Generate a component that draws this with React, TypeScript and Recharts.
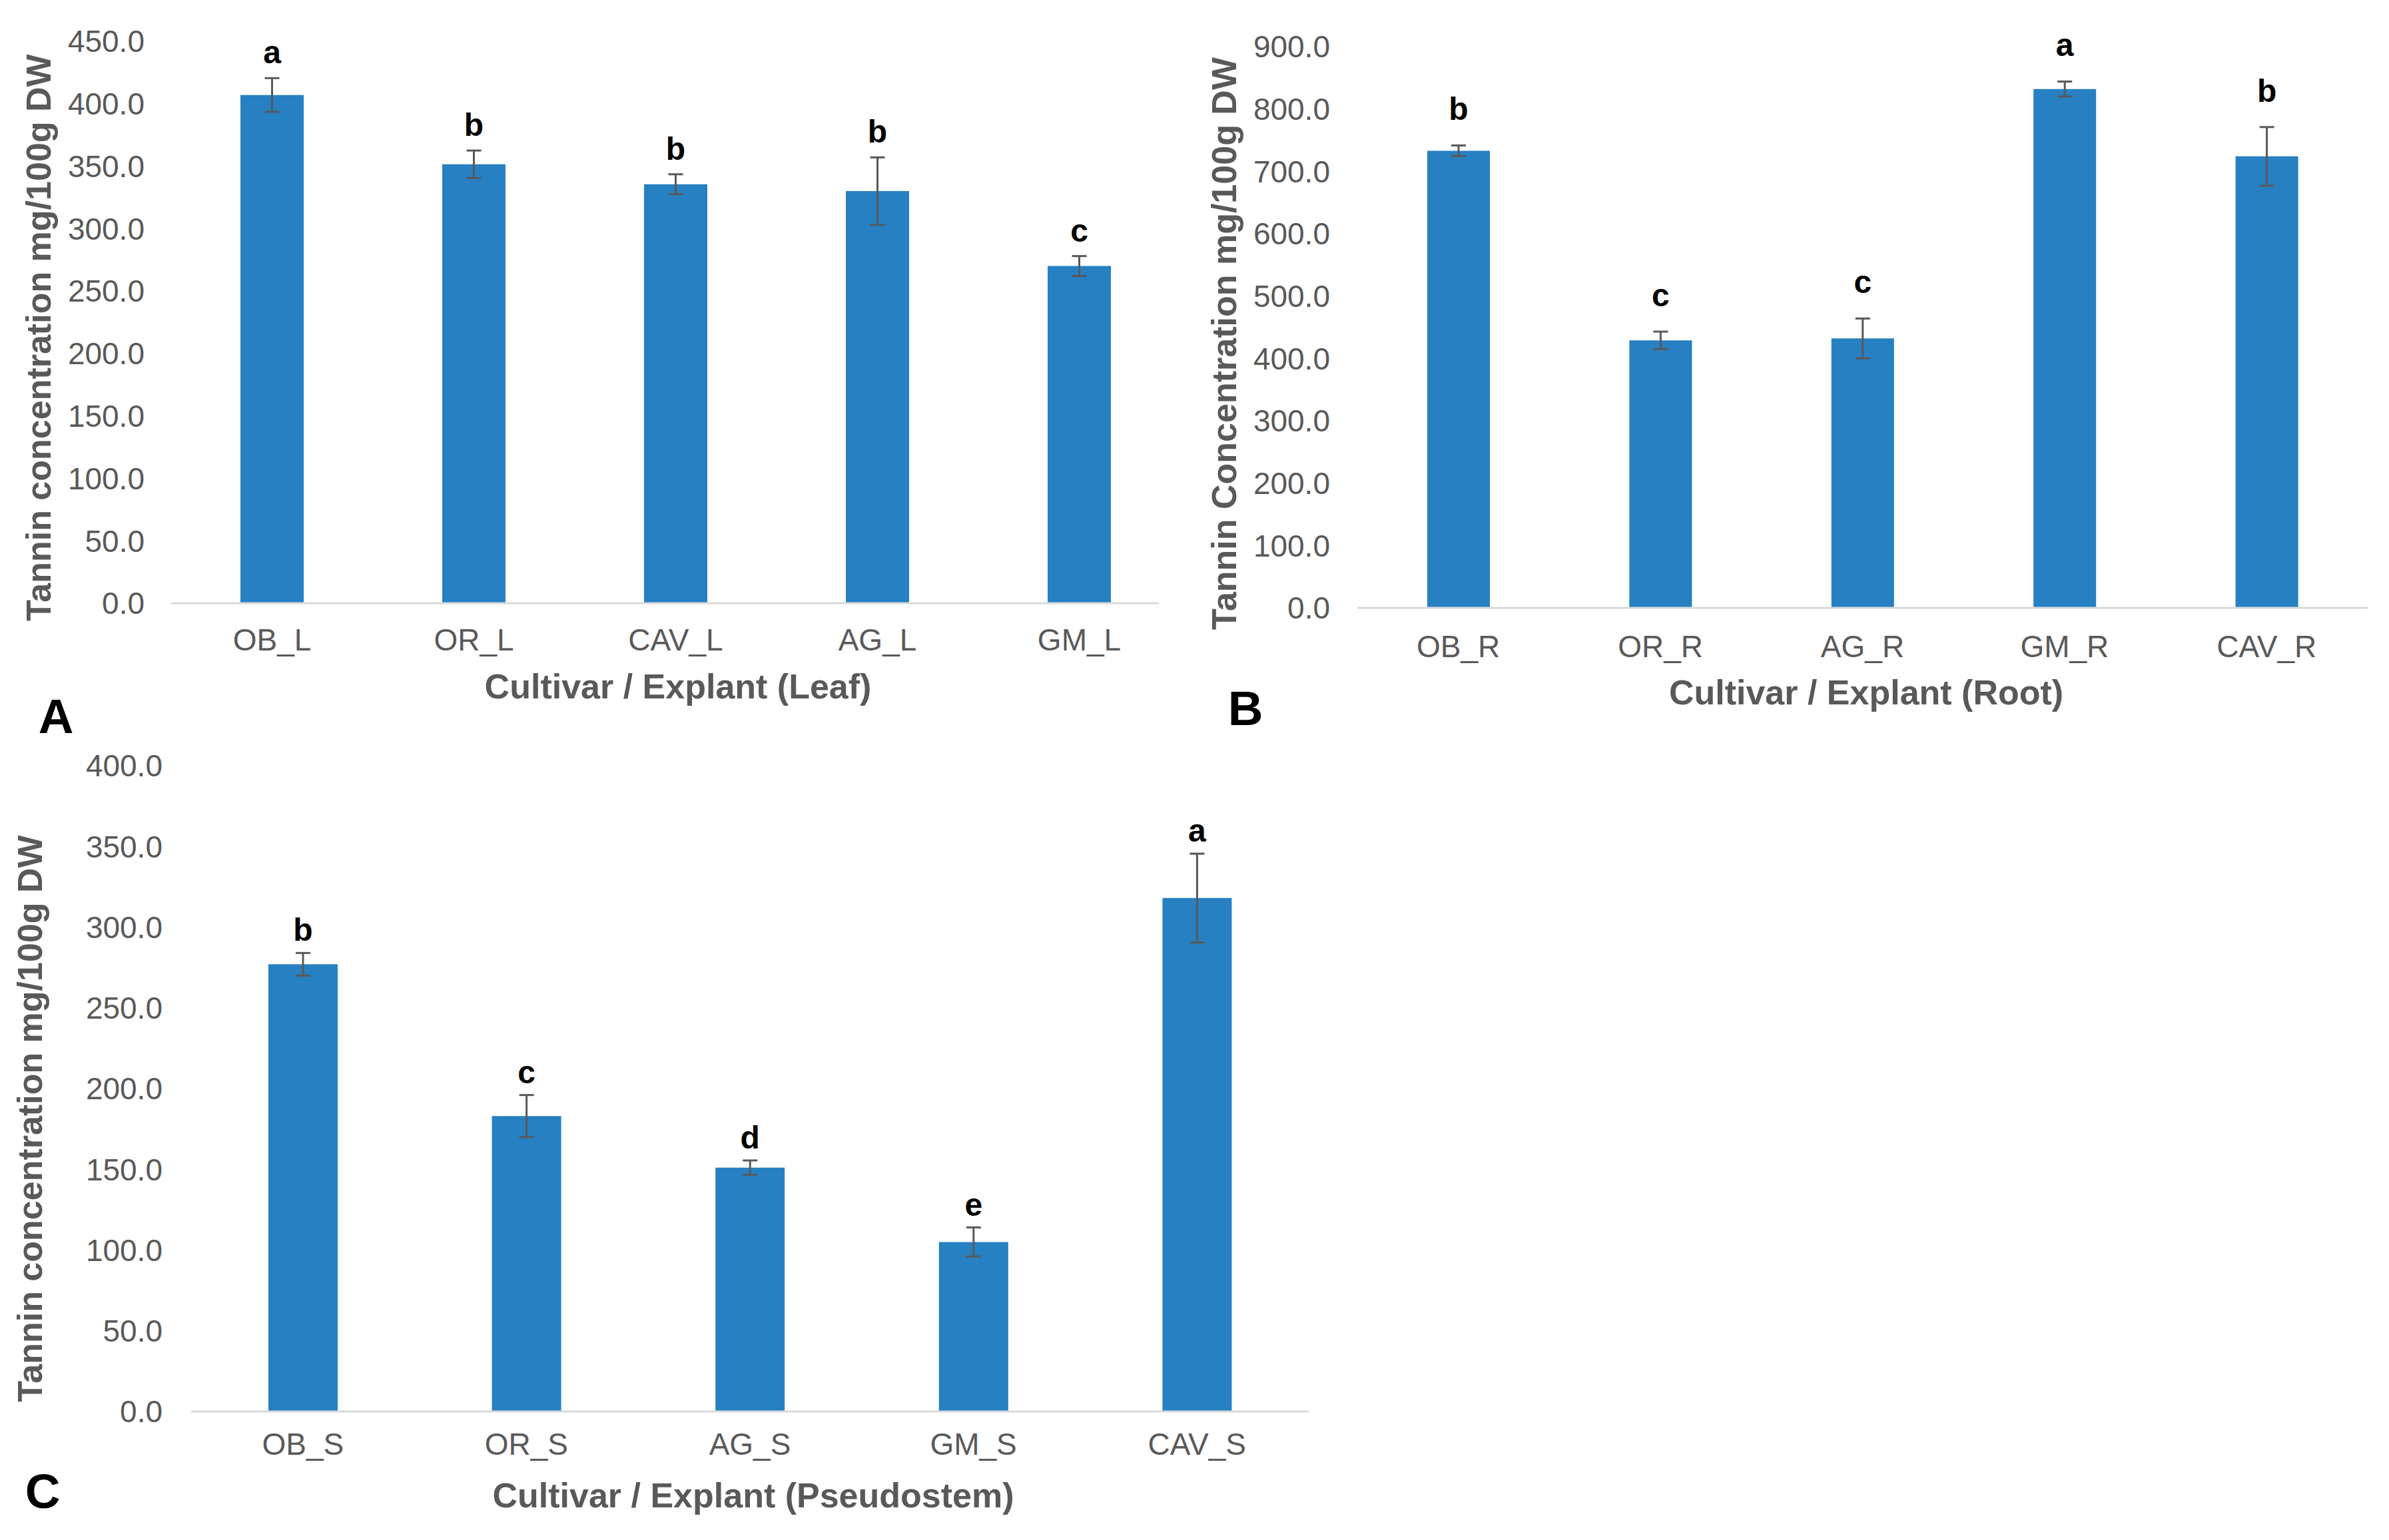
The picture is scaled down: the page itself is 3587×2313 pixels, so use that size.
import { BarChart, Bar, XAxis, YAxis, ErrorBar, LabelList } from 'recharts'

const FONT = '"Liberation Sans", Arial, sans-serif'
const BAR_COLOR = '#2680C2'
const AXIS_TEXT = '#595959'

// Panel A - leaf
const leafCategories = ['OB_L', 'OR_L', 'CAV_L', 'AG_L', 'GM_L']
const leafMeans = [407, 351.5, 335.5, 330, 270]
const leafErrors = [13.5, 11, 8, 27, 8]
const leafLetters = ['a', 'b', 'b', 'b', 'c']
const leafTicks = [0, 50, 100, 150, 200, 250, 300, 350, 400, 450]

// Panel B - root
const rootCategories = ['OB_R', 'OR_R', 'AG_R', 'GM_R', 'CAV_R']
const rootMeans = [733, 429, 432, 832, 724]
const rootErrors = [8.5, 14, 32, 12, 47]
const rootLetters = ['b', 'c', 'c', 'a', 'b']
const rootTicks = [0, 100, 200, 300, 400, 500, 600, 700, 800, 900]

// Panel C - pseudostem
const stemCategories = ['OB_S', 'OR_S', 'AG_S', 'GM_S', 'CAV_S']
const stemMeans = [277, 183, 151, 105, 318]
const stemErrors = [7, 13, 4.5, 9, 27.5]
const stemLetters = ['b', 'c', 'd', 'e', 'a']
const stemTicks = [0, 50, 100, 150, 200, 250, 300, 350, 400]

interface PanelProps {
  categories: string[]
  means: number[]
  errors: number[]
  letters: string[]
  ticks: number[]
  box: { left: number; top: number; width: number; height: number }
  plot: { left: number; right: number; top: number; bottom: number }
  padRight: number
  barSize: number
  xTickMargin: number
  yTickMargin: number
  letterGap: number
  yTitle: string
  yTitlePos: [number, number]
  xTitle: string
  xTitlePos: [number, number]
  tag: string
  tagPos: [number, number]
}

function Panel(p: PanelProps) {
  const data = p.categories.map((name, i) => ({
    name,
    mean: p.means[i],
    err: p.errors[i],
    letter: p.letters[i],
  }))
  const yMax = p.ticks[p.ticks.length - 1]
  const pxPerUnit = (p.plot.bottom - p.plot.top) / yMax

  const LetterLabel = (props: any) => {
    const { x, y, width, index, value } = props
    const errTop = y - p.errors[index] * pxPerUnit
    return (
      <text
        x={x + width / 2}
        y={errTop - p.letterGap}
        textAnchor="middle"
        fontSize={48}
        fontWeight="bold"
        fontFamily={FONT}
        fill="#000"
      >
        {value}
      </text>
    )
  }

  return (
    <>
      <div style={{ position: 'absolute', left: p.box.left, top: p.box.top }}>
        <BarChart
          width={p.box.width}
          height={p.box.height}
          data={data}
          margin={{
            top: p.plot.top - p.box.top,
            right: p.box.left + p.box.width - p.plot.right,
            bottom: 0,
            left: 0,
          }}
        >
          <XAxis
            dataKey="name"
            height={p.box.top + p.box.height - p.plot.bottom}
            padding={{ left: 0, right: p.padRight }}
            axisLine={{ stroke: '#D9D9D9', strokeWidth: 3 }}
            tickLine={false}
            tickSize={0}
            tickMargin={p.xTickMargin}
            tick={{ fontSize: 46, fill: AXIS_TEXT, fontFamily: FONT }}
            interval={0}
          />
          <YAxis
            width={p.plot.left - p.box.left}
            domain={[0, yMax]}
            ticks={p.ticks}
            interval={0}
            axisLine={false}
            tickLine={false}
            tickSize={0}
            tickMargin={p.yTickMargin}
            tickFormatter={(v: number) => v.toFixed(1)}
            tick={{ fontSize: 46, fill: AXIS_TEXT, fontFamily: FONT }}
          />
          <Bar dataKey="mean" fill={BAR_COLOR} barSize={p.barSize} isAnimationActive={false}>
            <ErrorBar dataKey="err" width={11} strokeWidth={3} stroke="#595959" direction="y" />
            <LabelList dataKey="letter" content={LetterLabel} />
          </Bar>
        </BarChart>
      </div>
      <div
        style={{
          position: 'absolute',
          left: p.yTitlePos[0],
          top: p.yTitlePos[1],
          transform: 'translate(-50%, -50%) rotate(-90deg)',
          whiteSpace: 'nowrap',
          fontFamily: FONT,
          fontWeight: 'bold',
          fontSize: 52,
          lineHeight: 1,
          color: AXIS_TEXT,
        }}
      >
        {p.yTitle}
      </div>
      <div
        style={{
          position: 'absolute',
          left: p.xTitlePos[0],
          top: p.xTitlePos[1],
          transform: 'translate(-50%, -50%)',
          whiteSpace: 'nowrap',
          fontFamily: FONT,
          fontWeight: 'bold',
          fontSize: 52,
          lineHeight: 1,
          color: AXIS_TEXT,
        }}
      >
        {p.xTitle}
      </div>
      <div
        style={{
          position: 'absolute',
          left: p.tagPos[0],
          top: p.tagPos[1],
          transform: 'translate(-50%, -50%)',
          fontFamily: FONT,
          fontWeight: 'bold',
          fontSize: 73,
          lineHeight: 1,
          color: '#000',
        }}
      >
        {p.tag}
      </div>
    </>
  )
}

export default function App() {
  return (
    <div
      style={{
        position: 'absolute',
        left: 0,
        top: 0,
        width: 3587,
        height: 2313,
        background: '#fff',
        overflow: 'hidden',
      }}
    >
      <Panel
        categories={leafCategories}
        means={leafMeans}
        errors={leafErrors}
        letters={leafLetters}
        ticks={leafTicks}
        box={{ left: 0, top: 0, width: 1790, height: 1100 }}
        plot={{ left: 257, right: 1740, top: 62, bottom: 906 }}
        padRight={-32}
        barSize={95}
        xTickMargin={38}
        yTickMargin={40}
        letterGap={22}
        yTitle="Tannin concentration mg/100g DW"
        yTitlePos={[58, 507]}
        xTitle="Cultivar / Explant (Leaf)"
        xTitlePos={[1018, 1031]}
        tag="A"
        tagPos={[84, 1075]}
      />
      <Panel
        categories={rootCategories}
        means={rootMeans}
        errors={rootErrors}
        letters={rootLetters}
        ticks={rootTicks}
        box={{ left: 1780, top: 0, width: 1807, height: 1100 }}
        plot={{ left: 2038, right: 3555, top: 70, bottom: 913 }}
        padRight={0}
        barSize={94}
        xTickMargin={41}
        yTickMargin={41}
        letterGap={38}
        yTitle="Tannin Concentration mg/100g DW"
        yTitlePos={[1838, 516]}
        xTitle="Cultivar / Explant (Root)"
        xTitlePos={[2802, 1040]}
        tag="B"
        tagPos={[1870, 1063]}
      />
      <Panel
        categories={stemCategories}
        means={stemMeans}
        errors={stemErrors}
        letters={stemLetters}
        ticks={stemTicks}
        box={{ left: 0, top: 1100, width: 2000, height: 1213 }}
        plot={{ left: 287, right: 1965, top: 1150, bottom: 2120 }}
        padRight={0}
        barSize={104}
        xTickMargin={32}
        yTickMargin={43}
        letterGap={18}
        yTitle="Tannin concentration mg/100g DW"
        yTitlePos={[45, 1680]}
        xTitle="Cultivar / Explant (Pseudostem)"
        xTitlePos={[1131, 2246]}
        tag="C"
        tagPos={[64, 2239]}
      />
    </div>
  )
}
